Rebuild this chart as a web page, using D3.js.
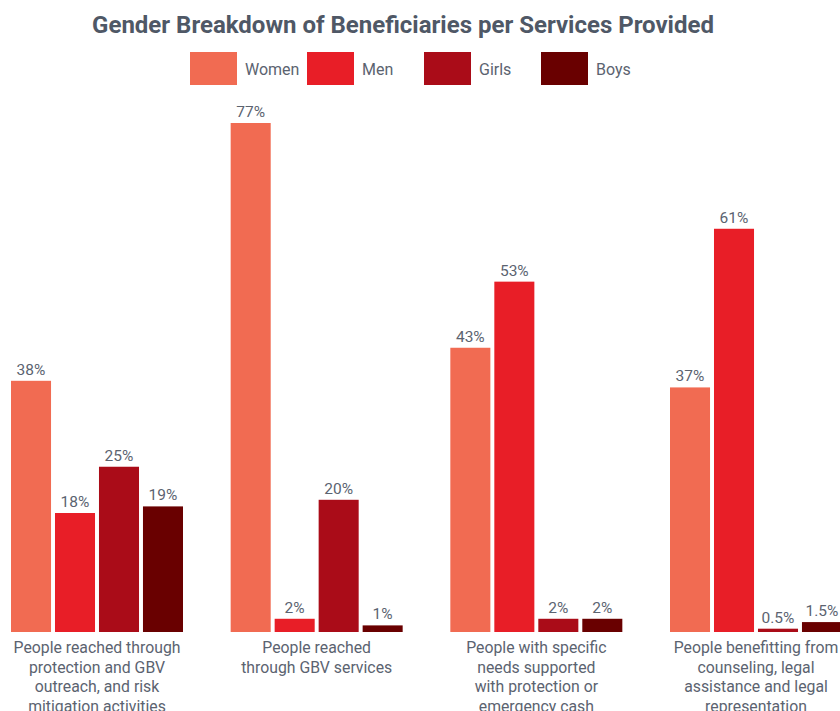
<!DOCTYPE html>
<html>
<head>
<meta charset="utf-8">
<script src="https://d3js.org/d3.v7.min.js"></script>
<style>
    body { margin: 0; background: #fff; }
    svg { display: block; font-family: Roboto, "Noto Sans", sans-serif; }
    .title { font-size: 24px; font-weight: bold; fill: #4f5866; }
    .legend text { font-size: 16px; fill: #5b6370; }
    .value { font-size: 15.5px; fill: #5b6370; text-anchor: middle; }
    .cat { font-size: 15.8px; fill: #5b6370; text-anchor: middle; }
</style>
</head>
<body>
<svg width="840" height="711"></svg>
<script>
    // data
    const categories = [
        ["People reached through", "protection and GBV", "outreach, and risk", "mitigation activities"],
        ["People reached", "through GBV services"],
        ["People with specific", "needs supported", "with protection or", "emergency cash"],
        ["People benefitting from", "counseling, legal", "assistance and legal", "representation"]
    ];
    const keys = ["Women", "Men", "Girls", "Boys"];
    const women = [38, 77, 43, 37];
    const men = [18, 2, 53, 61];
    const girls = [25, 20, 2, 0.5];
    const boys = [19, 1, 2, 1.5];
    const colors = ["#f16b52", "#e81e27", "#aa0c18", "#690000"];

    const series = [women, men, girls, boys];
    const data = categories.map((c, i) => ({
        id: i,
        values: keys.map((k, j) => ({key: k, value: series[j][i]}))
    }));

    const svg = d3.select("svg");

    const x0 = d3.scaleBand()
        .domain(data.map(d => d.id))
        .range([11, 842])
        .paddingInner(0.217);

    const x1 = d3.scaleBand()
        .domain(keys)
        .range([0, x0.bandwidth()])
        .paddingInner(0.09);

    const y = d3.scaleLinear().domain([0, 77]).range([632, 123]);

    const color = d3.scaleOrdinal().domain(keys).range(colors);

    // title
    svg.append("text")
        .attr("class", "title")
        .attr("x", 403)
        .attr("y", 33)
        .attr("text-anchor", "middle")
        .text("Gender Breakdown of Beneficiaries per Services Provided");

    // legend
    const legend = svg.selectAll(".legend")
        .data(keys)
        .enter().append("g")
        .attr("class", "legend")
        .attr("transform", (d, i) => `translate(${190 + i * 117},52)`);

    legend.append("rect")
        .attr("width", 47)
        .attr("height", 33)
        .style("fill", d => color(d));

    legend.append("text")
        .attr("x", 55)
        .attr("y", 17)
        .attr("dy", ".35em")
        .text(d => d);

    // bars
    const group = svg.selectAll(".group")
        .data(data)
        .enter().append("g")
        .attr("class", "group")
        .attr("transform", d => `translate(${x0(d.id)},0)`);

    group.selectAll("rect")
        .data(d => d.values)
        .enter().append("rect")
        .attr("x", d => x1(d.key))
        .attr("y", d => y(d.value))
        .attr("width", x1.bandwidth())
        .attr("height", d => y(0) - y(d.value))
        .style("fill", d => color(d.key));

    group.selectAll(".value")
        .data(d => d.values)
        .enter().append("text")
        .attr("class", "value")
        .attr("x", d => x1(d.key) + x1.bandwidth() / 2)
        .attr("y", d => y(d.value) - 6)
        .text(d => d.value + "%");

    // category labels
    group.append("text")
        .attr("class", "cat")
        .attr("transform", `translate(${x0.bandwidth() / 2},0)`)
        .selectAll("tspan")
        .data(d => categories[d.id])
        .enter().append("tspan")
        .attr("x", 0)
        .attr("y", (d, i) => 653 + i * 19.5)
        .text(d => d);
</script>
</body>
</html>
